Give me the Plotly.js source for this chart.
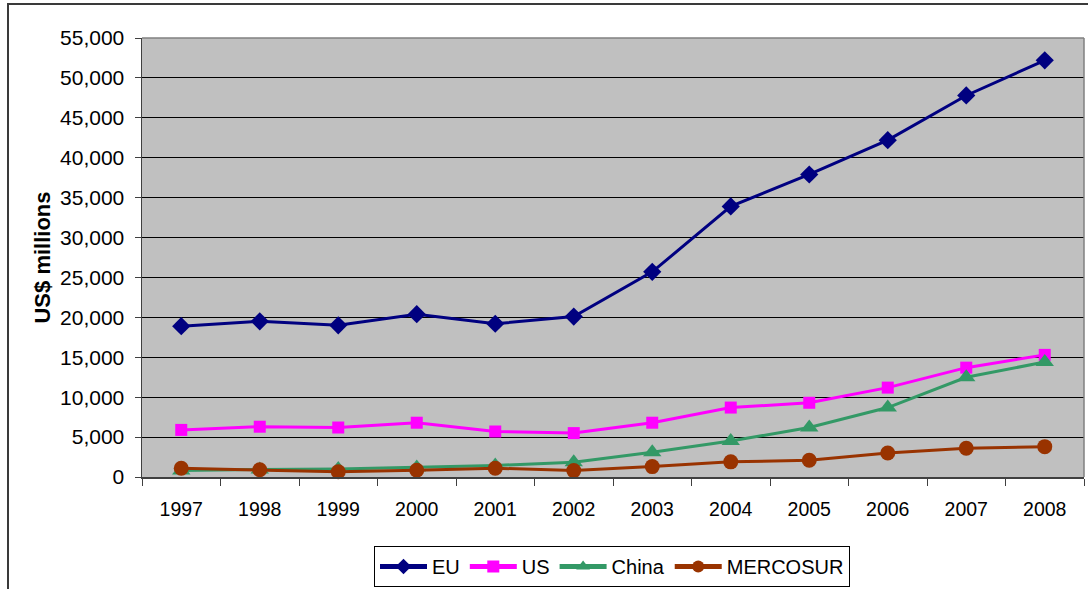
<!DOCTYPE html>
<html>
<head>
<meta charset="utf-8">
<script src="https://cdn.plot.ly/plotly-3.0.1.min.js"></script>
<style>
  html, body { margin: 0; padding: 0; background: #ffffff; }
  #chart { width: 1088px; height: 589px; }
</style>
</head>
<body>
<div id="chart"></div>
<script>
// Annual values, US$ millions
const years = ['1997', '1998', '1999', '2000', '2001', '2002', '2003', '2004', '2005', '2006', '2007', '2008'];
const euValues       = [18900, 19500, 19000, 20400, 19200, 20100, 25700, 33900, 37900, 42200, 47800, 52200];
const usValues       = [5900, 6300, 6200, 6800, 5700, 5500, 6800, 8700, 9300, 11200, 13700, 15300];
const chinaValues    = [800, 950, 1000, 1200, 1450, 1850, 3100, 4500, 6200, 8700, 12500, 14400];
const mercosurValues = [1100, 900, 650, 850, 1100, 800, 1300, 1900, 2100, 3000, 3600, 3800];
const yTickValues = [0, 5000, 10000, 15000, 20000, 25000, 30000, 35000, 40000, 45000, 50000, 55000];

const FONT = 'Liberation Sans, Arial, sans-serif';

function series(name, values, color, symbol, size) {
  return {
    type: 'scatter',
    mode: 'lines+markers',
    name: name,
    x: years,
    y: values,
    line: { color: color, width: 3 },
    marker: { color: color, symbol: symbol, size: size, line: { width: 0 } },
    cliponaxis: false,
    hoverinfo: 'skip'
  };
}

const traces = [
  series('EU', euValues, '#000080', 'diamond', 14),
  series('US', usValues, '#FF00FF', 'square', 12),
  series('China', chinaValues, '#339966', 'triangle-up', 16),
  series('MERCOSUR', mercosurValues, '#993300', 'circle', 15)
];

// pixel helpers for the frame drawn around the whole chart
const L = 142, R = 4, T = 38, B = 112, W = 1088, H = 589;
const pw = W - L - R, ph = H - T - B;
const px = x => (x - L) / pw;
const py = y => (H - B - y) / ph;

const layout = {
  width: W,
  height: H,
  margin: { l: L, r: R, t: T, b: B, pad: 0, autoexpand: false },
  paper_bgcolor: '#ffffff',
  plot_bgcolor: '#C0C0C0',
  font: { family: FONT, size: 20, color: '#000000' },
  showlegend: true,
  xaxis: {
    type: 'category',
    range: [-0.5, 11.5],
    tickson: 'boundaries',
    ticks: 'outside',
    ticklen: 7,
    tickwidth: 1,
    tickcolor: '#404040',
    showgrid: false,
    showline: true,
    linecolor: '#404040',
    linewidth: 1.5,
    ticklabelstandoff: 14,
    tickfont: { family: FONT, size: 19.5, color: '#000000' },
    fixedrange: true
  },
  yaxis: {
    range: [0, 55000],
    tickvals: yTickValues,
    tickformat: ',d',
    ticks: 'outside',
    ticklen: 6,
    tickwidth: 1,
    tickcolor: '#404040',
    showgrid: true,
    gridcolor: '#000000',
    gridwidth: 1,
    zeroline: false,
    showline: true,
    linecolor: '#404040',
    linewidth: 1.5,
    ticklabelstandoff: 6,
    tickfont: { family: FONT, size: 21, color: '#000000' },
    title: { text: '<b>US$ millions</b>', font: { family: FONT, size: 22, color: '#000000' }, standoff: 3 },
    fixedrange: true
  },
  legend: {
    orientation: 'h',
    x: px(612),
    xanchor: 'center',
    y: py(546),
    yanchor: 'top',
    bgcolor: '#ffffff',
    bordercolor: '#000000',
    borderwidth: 1,
    font: { family: FONT, size: 20, color: '#000000' },
    itemsizing: 'constant',
    itemwidth: 47,
    traceorder: 'normal'
  },
  shapes: [
    // plot area top and right edges
    { type: 'line', xref: 'paper', yref: 'paper', x0: 0, x1: 1, y0: 1, y1: 1, line: { color: '#808080', width: 1.5 }, layer: 'above' },
    { type: 'line', xref: 'paper', yref: 'paper', x0: 1, x1: 1, y0: 0, y1: 1, line: { color: '#808080', width: 1.5 }, layer: 'above' },
    // frame around the chart
    { type: 'rect', xref: 'paper', yref: 'paper', x0: px(8), x1: px(1110), y0: py(610), y1: py(4), line: { color: '#3a3a3a', width: 2 }, fillcolor: 'rgba(0,0,0,0)', layer: 'above' }
  ]
};

Plotly.newPlot('chart', traces, layout, { displayModeBar: false, staticPlot: true });
</script>
</body>
</html>
